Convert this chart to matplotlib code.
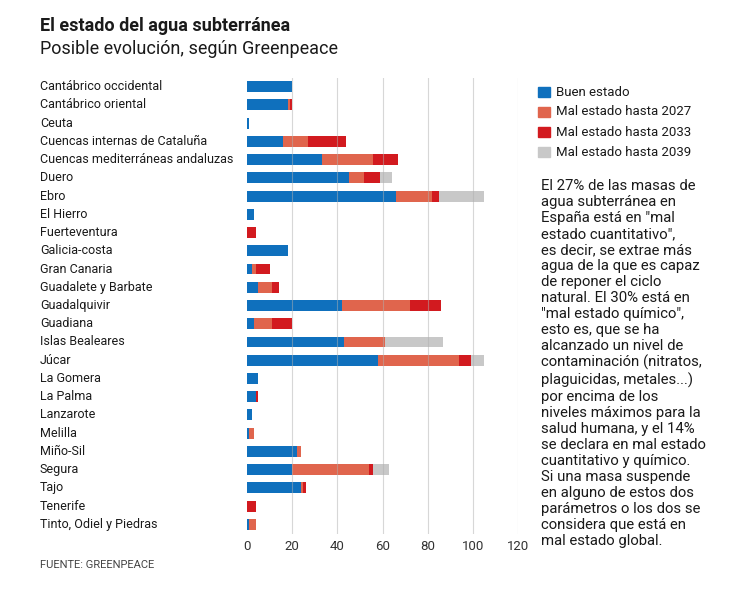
import matplotlib
matplotlib.use("Agg")
import matplotlib.pyplot as plt
import matplotlib.transforms as mtransforms
from matplotlib.patches import Rectangle

plt.rcParams['font.family'] = ['Roboto', 'DejaVu Sans']

categories = [
    "Cantábrico occidental", "Cantábrico oriental", "Ceuta",
    "Cuencas internas de Cataluña", "Cuencas mediterráneas andaluzas",
    "Duero", "Ebro", "El Hierro", "Fuerteventura", "Galicia-costa",
    "Gran Canaria", "Guadalete y Barbate", "Guadalquivir", "Guadiana",
    "Islas Bealeares", "Júcar", "La Gomera", "La Palma", "Lanzarote",
    "Melilla", "Miño-Sil", "Segura", "Tajo", "Tenerife",
    "Tinto, Odiel y Piedras",
]
buen =   [20, 18, 1, 16, 33, 45, 66, 3, 0, 18, 2, 5, 42, 3, 43, 58, 5, 4, 2, 1, 22, 20, 24, 0, 1]
mal27 =  [0, 1, 0, 11, 23, 7, 16, 0, 0, 0, 2, 6, 30, 8, 18, 36, 0, 0, 0, 2, 2, 34, 1, 0, 3]
mal33 =  [0, 1, 0, 17, 11, 7, 3, 0, 4, 0, 6, 3, 14, 9, 0, 5, 0, 1, 0, 0, 0, 2, 1, 4, 0]
mal39 =  [0, 0, 0, 0, 0, 5, 20, 0, 0, 0, 0, 0, 0, 0, 26, 6, 0, 0, 0, 0, 0, 7, 0, 0, 0]

series_names = ["Buen estado", "Mal estado hasta 2027",
                "Mal estado hasta 2033", "Mal estado hasta 2039"]
colors = ["#0f70bd", "#e0654d", "#d21a1f", "#c8c8c8"]
xticks = [0, 20, 40, 60, 80, 100, 120]

title = "El estado del agua subterránea"
subtitle = "Posible evolución, según Greenpeace"
source = "FUENTE: GREENPEACE"
note = ('El 27% de las masas de\nagua subterránea en\nEspaña está en "mal\n'
        'estado cuantitativo",\nes decir, se extrae más\nagua de la que es capaz\n'
        'de reponer el ciclo\nnatural. El 30% está en\n"mal estado químico",\n'
        'esto es, que se ha\nalcanzado un nivel de\ncontaminación (nitratos,\n'
        'plaguicidas, metales...)\npor encima de los\nniveles máximos para la\n'
        'salud humana, y el 14%\nse declara en mal estado\ncuantitativo y químico.\n'
        'Si una masa suspende\nen alguno de estos dos\nparámetros o los dos se\n'
        'considera que está en\nmal estado global.')

W, H = 750, 596
fig = plt.figure(figsize=(W / 100, H / 100), dpi=100)
ax = fig.add_axes([247 / W, 1 - 533.5 / H, (518 - 247) / W, (533.5 - 77.5) / H])

n = len(categories)
ys = list(range(n))
left = [0] * n
for vals, name, col in zip([buen, mal27, mal33, mal39], series_names, colors):
    ax.barh(ys, vals, left=left, height=0.6, color=col, label=name, zorder=2)
    left = [a + b for a, b in zip(left, vals)]

ax.set_xlim(0, 120)
ax.set_ylim(n - 0.5, -0.5)
ax.set_xticks(xticks)
ax.set_xticklabels([str(t) for t in xticks], fontsize=9.5, color="#333333")
ax.tick_params(axis='x', length=0, pad=5)
ax.set_yticks([])
for t in xticks[1:]:
    ax.axvline(t, color="#b0b0b0", lw=0.8, alpha=0.5, zorder=3)
for s in ax.spines.values():
    s.set_visible(False)

trans = mtransforms.blended_transform_factory(fig.transFigure, ax.transData)
for y, c in zip(ys, categories):
    fig.text(40 / W, y, c, transform=trans, ha='left', va='center',
             fontsize=9.0, color="#1a1a1a")

fig.text(40 / W, 1 - 26 / H, title, fontsize=13, fontweight='bold',
         color="#1a1a1a", va='center', ha='left')
fig.text(40 / W, 1 - 49 / H, subtitle, fontsize=13, color="#1a1a1a",
         va='center', ha='left')
fig.text(40 / W, 1 - 565 / H, source, fontsize=8.0, color="#444444",
         va='center', ha='left')

# legend
for i, (name, col) in enumerate(zip(series_names, colors)):
    yc = 92 + 20 * i
    fig.patches.append(Rectangle((538 / W, 1 - (yc + 5) / H), 12 / W, 10 / H,
                                 transform=fig.transFigure, color=col))
    fig.text(556 / W, 1 - yc / H, name, fontsize=9.5, color="#1a1a1a",
             va='center', ha='left')

fig.text(541 / W, 1 - 179 / H, note, fontsize=10.7, color="#1a1a1a",
         va='top', ha='left', linespacing=1.18)

fig.savefig("out.png", dpi=100, facecolor="white")
